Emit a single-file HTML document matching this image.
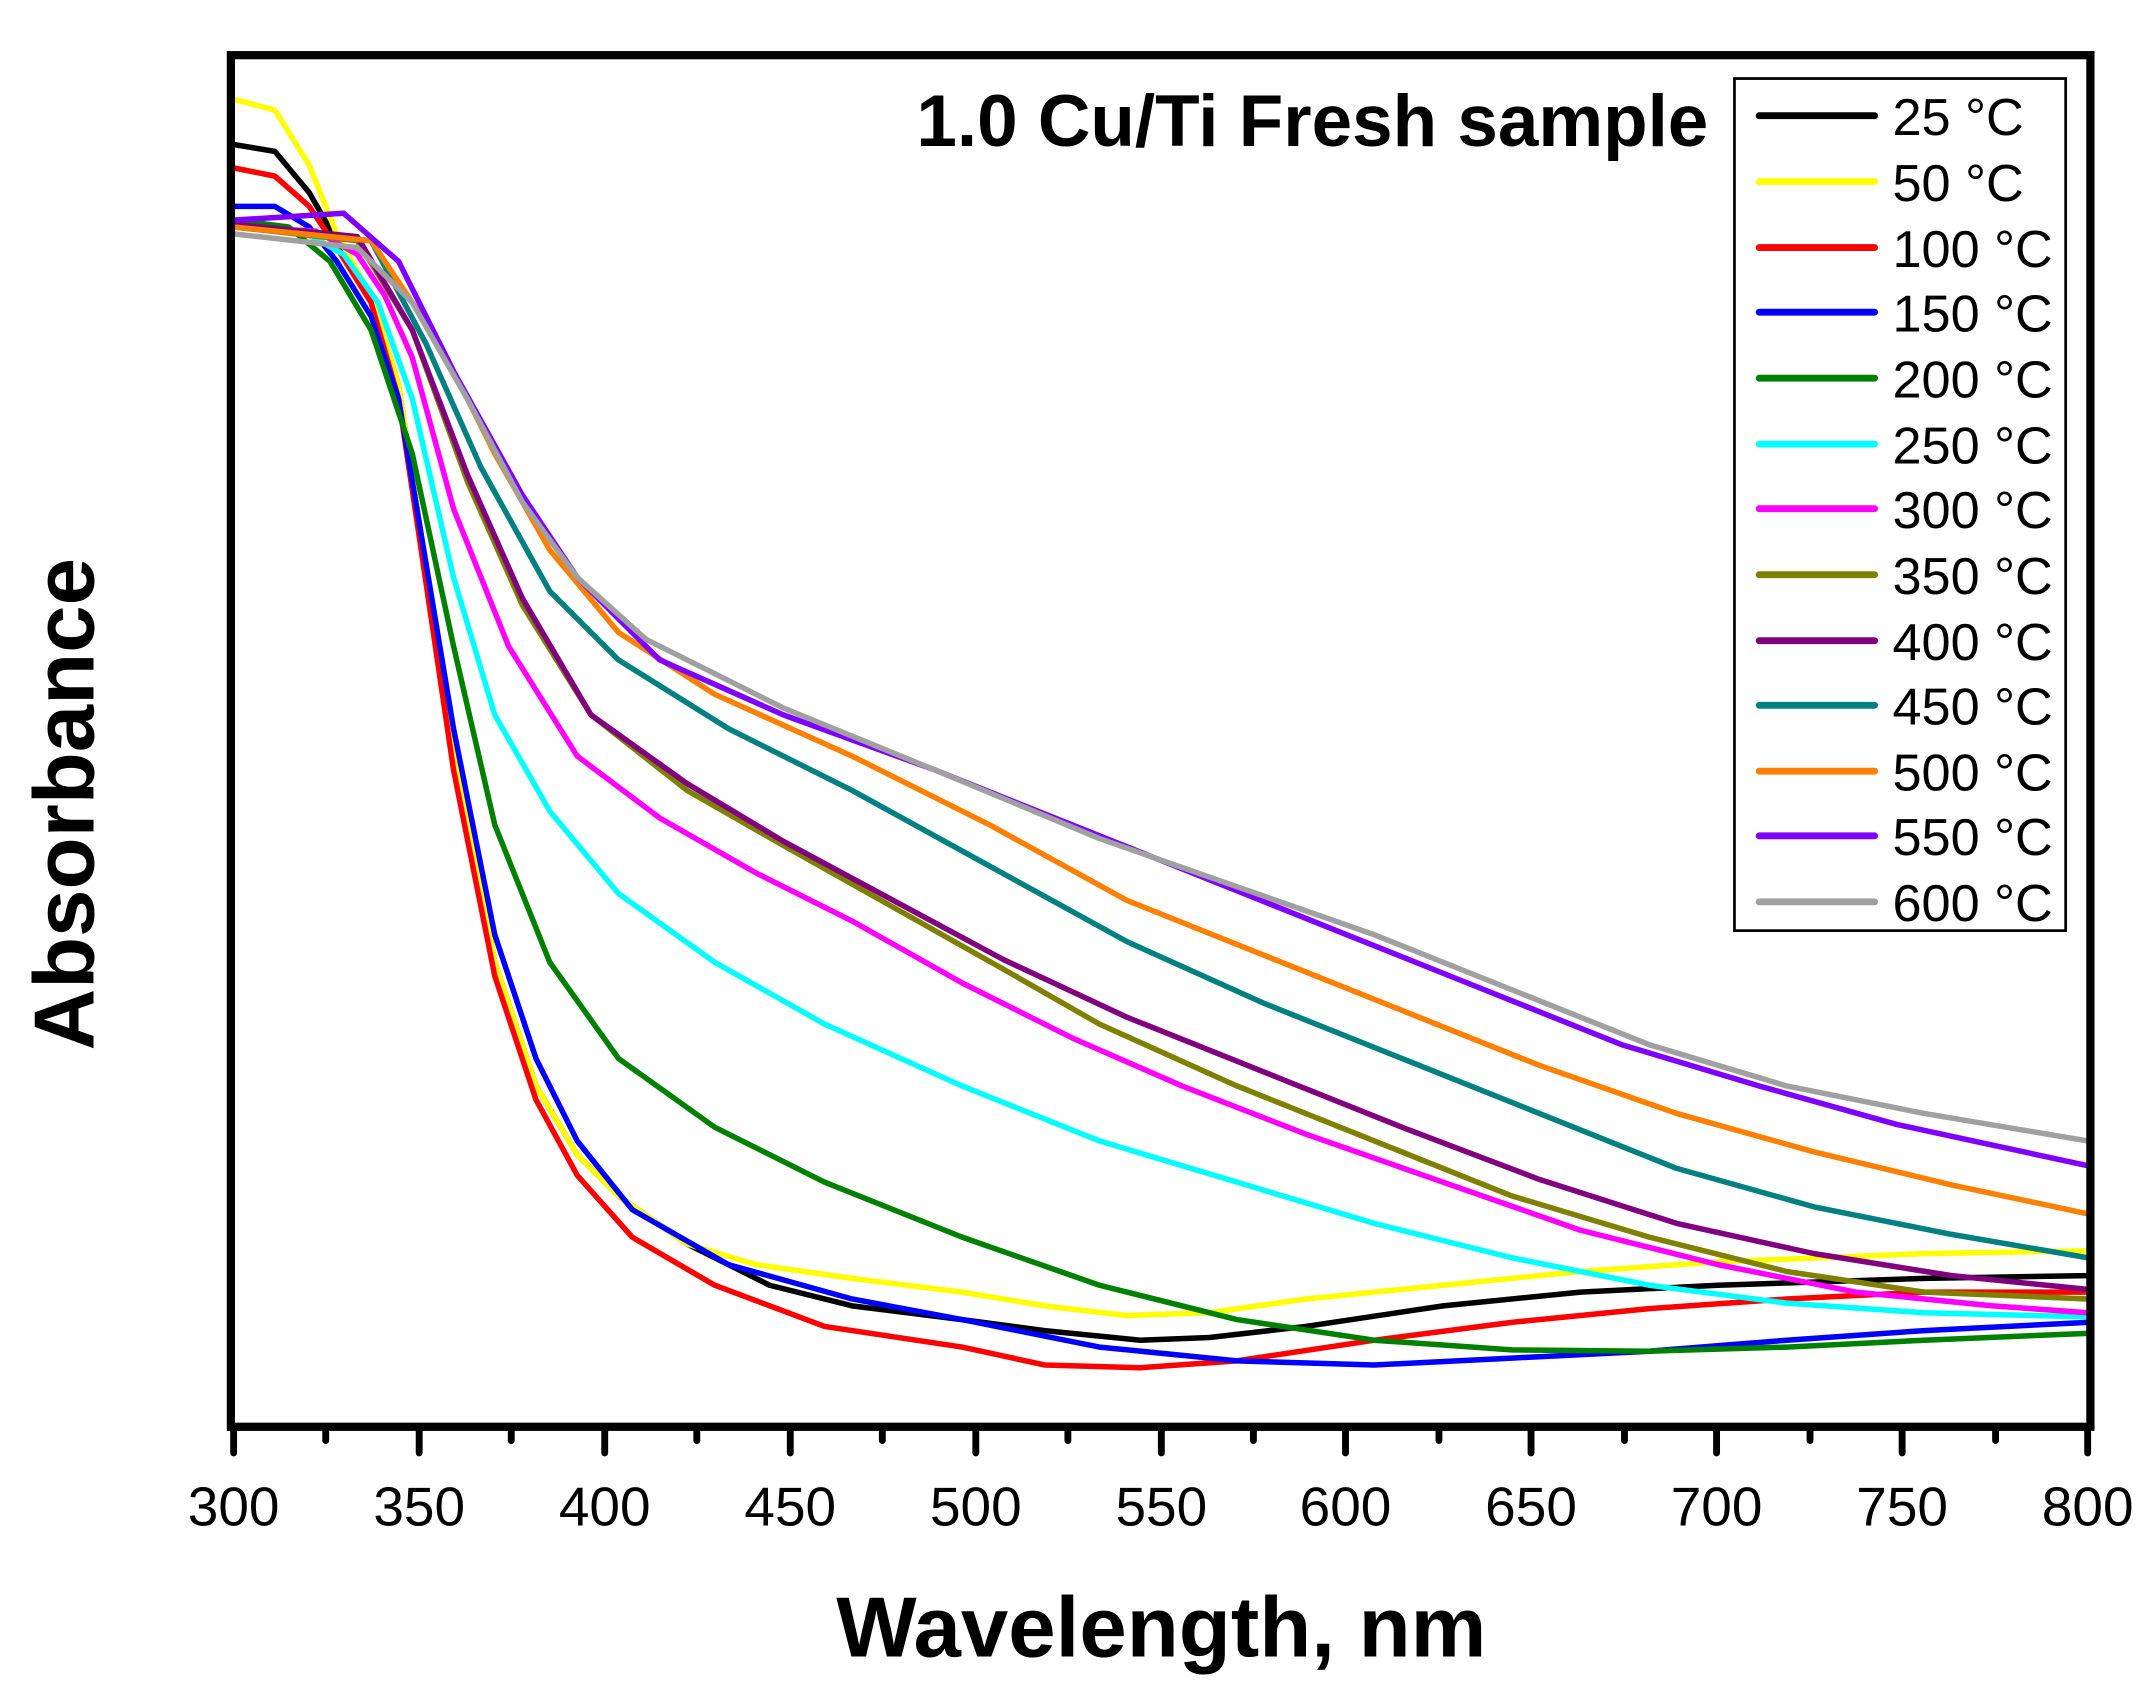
<!DOCTYPE html>
<html><head><meta charset="utf-8"><style>html,body{margin:0;padding:0;background:#fff}svg{display:block}</style></head>
<body>
<svg width="2155" height="1695" viewBox="0 0 1568 1233" xmlns="http://www.w3.org/2000/svg" font-family="Liberation Sans, Arial, sans-serif">
<rect width="1568" height="1233" fill="#fff"/>
<g fill="none" stroke-width="4" stroke-linejoin="round" stroke-linecap="round">
<polyline stroke="#000" points="170,105 200,110 225,140 245,175 270,215 290,280 305,380 330,540 360,700 390,790 420,840 450,870 500,905 560,935 620,950 700,960 760,968 830,975 880,973 950,965 1050,950 1150,940 1250,935 1400,930 1519,928"/>
<polyline stroke="#ffff00" points="170,72 200,80 225,120 245,170 270,215 290,280 305,380 330,540 360,700 390,790 420,840 450,870 500,905 550,920 620,930 700,940 760,950 820,957 880,955 950,945 1050,935 1150,925 1250,918 1400,912 1519,910"/>
<polyline stroke="#ff0000" points="170,122 200,128 225,150 245,180 270,220 290,290 305,390 330,560 360,710 390,800 420,855 460,900 520,935 600,965 700,980 760,993 830,995 900,990 1000,975 1100,962 1200,952 1300,945 1400,940 1519,940"/>
<polyline stroke="#0000ff" points="170,150 200,150 225,165 245,190 270,230 290,290 305,380 330,530 360,680 390,770 420,830 460,880 530,920 620,945 700,960 800,980 900,990 1000,993 1100,988 1200,983 1300,975 1400,968 1519,962"/>
<polyline stroke="#008000" points="170,160 210,165 240,190 270,240 300,330 330,470 360,600 400,700 450,770 520,820 600,860 700,900 800,935 900,960 1000,975 1100,982 1200,983 1300,980 1400,975 1519,970"/>
<polyline stroke="#00ffff" points="170,165 220,168 250,185 275,220 300,290 330,420 360,520 400,590 450,650 520,700 600,745 700,790 800,830 900,860 1000,890 1100,915 1200,935 1300,948 1400,955 1519,958"/>
<polyline stroke="#ff00ff" points="170,165 230,168 260,185 280,215 300,260 330,370 370,470 420,550 480,595 550,635 620,670 700,715 780,755 860,790 950,825 1050,860 1150,895 1250,920 1350,940 1450,950 1519,955"/>
<polyline stroke="#808000" points="170,165 260,175 300,240 340,350 380,440 430,520 500,575 570,615 650,660 730,705 800,745 900,790 1000,830 1100,870 1200,900 1300,925 1400,940 1519,945"/>
<polyline stroke="#800080" points="170,163 260,172 300,240 340,345 380,435 430,520 500,570 570,612 650,655 730,698 820,740 920,780 1020,820 1120,858 1220,890 1320,912 1420,928 1519,938"/>
<polyline stroke="#008080" points="170,165 270,175 310,250 350,340 400,430 450,480 530,530 620,575 720,630 820,685 920,730 1020,770 1120,810 1220,850 1320,878 1420,898 1519,915"/>
<polyline stroke="#ff8000" points="170,165 270,175 320,250 360,330 400,400 450,460 520,505 620,550 720,600 820,655 920,695 1020,735 1120,775 1220,810 1320,838 1420,862 1519,883"/>
<polyline stroke="#8000ff" points="170,160 250,155 290,190 330,270 380,360 420,420 480,480 570,520 680,560 780,600 880,640 980,680 1080,720 1180,760 1280,790 1380,818 1519,848"/>
<polyline stroke="#a0a0a0" points="170,170 260,180 300,220 340,290 380,365 420,420 470,465 570,515 680,560 800,610 900,645 1000,680 1100,720 1200,760 1300,790 1400,810 1519,830"/>
</g>
<rect x="168" y="40" width="1353" height="998" fill="none" stroke="#000" stroke-width="6"/>
<g stroke="#000" stroke-width="5" stroke-linecap="round">
<line x1="170" y1="1038" x2="170" y2="1057"/><line x1="237" y1="1038" x2="237" y2="1048"/>
<line x1="305" y1="1038" x2="305" y2="1057"/><line x1="372" y1="1038" x2="372" y2="1048"/>
<line x1="440" y1="1038" x2="440" y2="1057"/><line x1="507" y1="1038" x2="507" y2="1048"/>
<line x1="575" y1="1038" x2="575" y2="1057"/><line x1="642" y1="1038" x2="642" y2="1048"/>
<line x1="710" y1="1038" x2="710" y2="1057"/><line x1="777" y1="1038" x2="777" y2="1048"/>
<line x1="845" y1="1038" x2="845" y2="1057"/><line x1="912" y1="1038" x2="912" y2="1048"/>
<line x1="979" y1="1038" x2="979" y2="1057"/><line x1="1047" y1="1038" x2="1047" y2="1048"/>
<line x1="1114" y1="1038" x2="1114" y2="1057"/><line x1="1182" y1="1038" x2="1182" y2="1048"/>
<line x1="1249" y1="1038" x2="1249" y2="1057"/><line x1="1317" y1="1038" x2="1317" y2="1048"/>
<line x1="1384" y1="1038" x2="1384" y2="1057"/><line x1="1452" y1="1038" x2="1452" y2="1048"/>
<line x1="1519" y1="1038" x2="1519" y2="1057"/>
</g>
<g font-size="40" text-anchor="middle" fill="#000">
<text x="170" y="1110">300</text><text x="305" y="1110">350</text><text x="440" y="1110">400</text>
<text x="575" y="1110">450</text><text x="710" y="1110">500</text><text x="845" y="1110">550</text>
<text x="979" y="1110">600</text><text x="1114" y="1110">650</text><text x="1249" y="1110">700</text>
<text x="1384" y="1110">750</text><text x="1519" y="1110">800</text>
</g>
<text x="845" y="1205" font-size="62" font-weight="bold" text-anchor="middle">Wavelength, nm</text>
<text transform="translate(68,585) rotate(-90)" font-size="62" font-weight="bold" text-anchor="middle">Absorbance</text>
<text x="1243" y="106" font-size="53" font-weight="bold" text-anchor="end">1.0 Cu/Ti Fresh sample</text>
<rect x="1262" y="57" width="241" height="620" fill="#fff" stroke="#000" stroke-width="2"/>
<g stroke-width="5" stroke-linecap="round">
<line x1="1280" x2="1364" y1="84" y2="84" stroke="#000"/>
<line x1="1280" x2="1364" y1="132" y2="132" stroke="#ffff00"/>
<line x1="1280" x2="1364" y1="180" y2="180" stroke="#ff0000"/>
<line x1="1280" x2="1364" y1="227" y2="227" stroke="#0000ff"/>
<line x1="1280" x2="1364" y1="275" y2="275" stroke="#008000"/>
<line x1="1280" x2="1364" y1="323" y2="323" stroke="#00ffff"/>
<line x1="1280" x2="1364" y1="370" y2="370" stroke="#ff00ff"/>
<line x1="1280" x2="1364" y1="418" y2="418" stroke="#808000"/>
<line x1="1280" x2="1364" y1="466" y2="466" stroke="#800080"/>
<line x1="1280" x2="1364" y1="513" y2="513" stroke="#008080"/>
<line x1="1280" x2="1364" y1="561" y2="561" stroke="#ff8000"/>
<line x1="1280" x2="1364" y1="608" y2="608" stroke="#8000ff"/>
<line x1="1280" x2="1364" y1="656" y2="656" stroke="#a0a0a0"/>
</g>
<g font-size="38" fill="#000">
<text x="1377" y="98">25 °C</text><text x="1377" y="146">50 °C</text><text x="1377" y="194">100 °C</text>
<text x="1377" y="241">150 °C</text><text x="1377" y="289">200 °C</text><text x="1377" y="337">250 °C</text>
<text x="1377" y="384">300 °C</text><text x="1377" y="432">350 °C</text><text x="1377" y="480">400 °C</text>
<text x="1377" y="527">450 °C</text><text x="1377" y="575">500 °C</text><text x="1377" y="622">550 °C</text>
<text x="1377" y="670">600 °C</text>
</g>
</svg>
</body></html>
